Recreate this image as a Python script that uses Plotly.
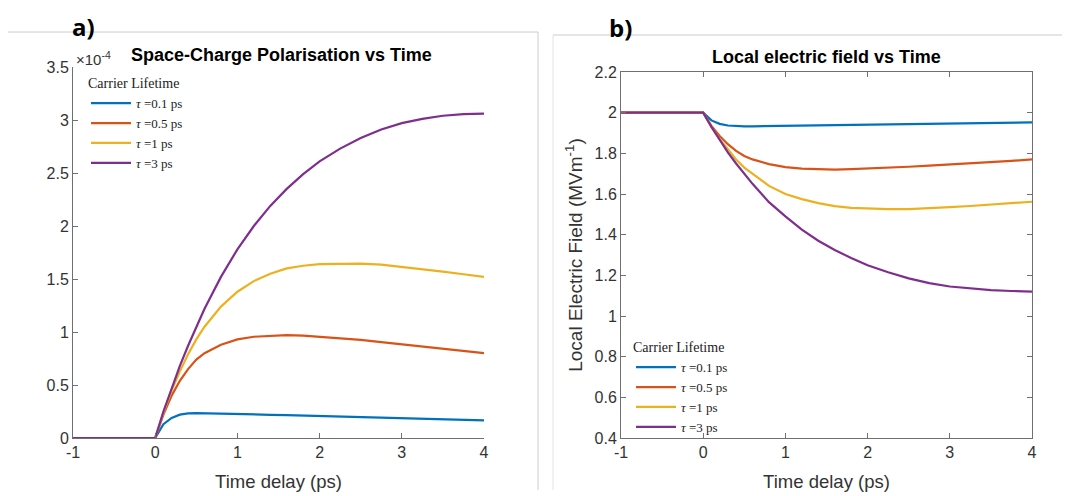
import plotly.graph_objects as go

# time axis (ps)
t = [-1, 0, 0.1, 0.2, 0.3, 0.4, 0.5, 0.6, 0.8, 1.0, 1.2, 1.4, 1.6, 1.8, 2.0,
     2.25, 2.5, 2.75, 3.0, 3.25, 3.5, 3.75, 4.0]

labels = ["<i>τ</i> =0.1 ps", "<i>τ</i> =0.5 ps", "<i>τ</i> =1 ps", "<i>τ</i> =3 ps"]
colors = ["#0072BD", "#D95319", "#EDB120", "#7E2F8E"]

x_ticks = [-1, 0, 1, 2, 3, 4]
x_ticktext = ["-1", "0", "1", "2", "3", "4"]

# Space-charge polarisation (units of 1e-4)
pol_01 = [0, 0, 0.13, 0.19, 0.22, 0.232, 0.235, 0.234, 0.231, 0.227, 0.223, 0.219,
          0.215, 0.211, 0.207, 0.202, 0.197, 0.192, 0.187, 0.182, 0.177, 0.172, 0.167]
pol_05 = [0, 0, 0.22, 0.40, 0.54, 0.65, 0.74, 0.80, 0.88, 0.93, 0.955, 0.965,
          0.97, 0.965, 0.955, 0.94, 0.925, 0.905, 0.885, 0.865, 0.845, 0.822, 0.80]
pol_1 = [0, 0, 0.24, 0.45, 0.63, 0.79, 0.93, 1.05, 1.24, 1.38, 1.48, 1.55,
         1.60, 1.625, 1.64, 1.645, 1.645, 1.635, 1.615, 1.595, 1.57, 1.545, 1.52]
pol_3 = [0, 0, 0.25, 0.47, 0.68, 0.87, 1.05, 1.22, 1.52, 1.78, 2.00, 2.19,
         2.35, 2.49, 2.61, 2.73, 2.83, 2.91, 2.97, 3.01, 3.04, 3.055, 3.06]

# Local electric field (MV/m)
ef_01 = [2, 2, 1.962, 1.945, 1.937, 1.934, 1.933, 1.933, 1.934, 1.935, 1.936, 1.937,
         1.938, 1.939, 1.940, 1.942, 1.943, 1.945, 1.946, 1.948, 1.949, 1.951, 1.952]
ef_05 = [2, 2, 1.935, 1.885, 1.845, 1.812, 1.787, 1.77, 1.747, 1.732, 1.725, 1.722,
         1.72, 1.722, 1.725, 1.729, 1.734, 1.74, 1.745, 1.751, 1.757, 1.763, 1.77]
ef_1 = [2, 2, 1.93, 1.87, 1.82, 1.77, 1.73, 1.70, 1.64, 1.60, 1.575, 1.555,
        1.54, 1.532, 1.528, 1.526, 1.526, 1.529, 1.535, 1.541, 1.548, 1.555, 1.562]
ef_3 = [2, 2, 1.93, 1.865, 1.805, 1.75, 1.70, 1.65, 1.56, 1.49, 1.425, 1.37,
        1.325, 1.285, 1.25, 1.215, 1.185, 1.162, 1.145, 1.135, 1.127, 1.123, 1.12]

pol_series = [pol_01, pol_05, pol_1, pol_3]
ef_series = [ef_01, ef_05, ef_1, ef_3]

# page body has an 8px margin; size the figure so it fills the window
OFF = 8
W, H = 1070 - OFF, 496 - OFF
def px(x):
    return (x - OFF) / W
def py(y):
    return 1 - (y - OFF) / H

fig = go.Figure()
for name, col, ys in zip(labels, colors, pol_series):
    fig.add_trace(go.Scatter(x=t, y=ys, mode="lines", name=name, line=dict(color=col, width=2.2),
                             xaxis="x", yaxis="y", legend="legend"))
for name, col, ys in zip(labels, colors, ef_series):
    fig.add_trace(go.Scatter(x=t, y=ys, mode="lines", name=name, line=dict(color=col, width=2.2),
                             xaxis="x2", yaxis="y2", legend="legend2"))

axis_col = "#707070"
tickfont = dict(family="Liberation Sans, Arial", size=16, color="#333333")
common = dict(showgrid=False, zeroline=False, showline=True, linecolor=axis_col, linewidth=1,
              ticks="inside", ticklen=5, tickcolor=axis_col, tickfont=tickfont, automargin=False)
xtitle = dict(text="Time delay (ps)", font=dict(family="Liberation Sans, Arial", size=18.5, color="#333333"), standoff=14)

legfont = dict(family="Liberation Serif, Times New Roman, serif", size=13, color="#222222")
legtitle = dict(text="Carrier Lifetime", font=dict(family="Liberation Serif, Times New Roman, serif", size=14, color="#222222"))
fig.update_layout(
    width=W, height=H, margin=dict(l=0, r=0, t=0, b=0, autoexpand=False),
    plot_bgcolor="white", paper_bgcolor="white", showlegend=True,
    xaxis=dict(domain=[px(73), px(484)], range=[-1, 4], tickvals=x_ticks, ticktext=x_ticktext,
               anchor="y", title=xtitle, **common),
    yaxis=dict(domain=[py(438), py(67)], range=[0, 3.5], dtick=0.5, anchor="x", **common),
    xaxis2=dict(domain=[px(621), px(1032)], range=[-1, 4], tickvals=x_ticks, ticktext=x_ticktext,
                anchor="y2", mirror="ticks", title=xtitle, **common),
    yaxis2=dict(domain=[py(438), py(72)], range=[0.4, 2.2], dtick=0.2, anchor="x2", mirror="ticks",
                title=dict(text="Local Electric Field (MVm<sup>-1</sup>)",
                           font=dict(family="Liberation Sans, Arial", size=19, color="#333333"), standoff=6),
                **common),
    legend=dict(x=px(86), y=py(70), xanchor="left", yanchor="top", bgcolor="rgba(0,0,0,0)",
                font=legfont, itemwidth=40, tracegroupgap=0, title=legtitle),
    legend2=dict(x=px(631), y=py(334), xanchor="left", yanchor="top", bgcolor="rgba(0,0,0,0)",
                 font=legfont, itemwidth=40, tracegroupgap=0, title=legtitle),
)

# panel borders
border = dict(type="line", xref="paper", yref="paper")
fig.add_shape(**border, x0=px(5), y0=py(32), x1=px(538), y1=py(32), line=dict(color="#cccccc", width=1))
fig.add_shape(**border, x0=px(538), y0=py(32), x1=px(538), y1=py(490), line=dict(color="#cccccc", width=1))
fig.add_shape(**border, x0=px(553), y0=py(35), x1=px(1070), y1=py(35), line=dict(color="#cccccc", width=1))
fig.add_shape(**border, x0=px(553), y0=py(35), x1=px(553), y1=py(490), line=dict(color="#e4e4e4", width=1))

def note(text, x, y, size, color="black", family="Liberation Sans, Arial", xanchor="center", yanchor="middle"):
    return dict(text=text, x=px(x), y=py(y), xref="paper", yref="paper", showarrow=False,
                xanchor=xanchor, yanchor=yanchor, font=dict(family=family, size=size, color=color))

ann = [
    note("<b>a)</b>", 83, 8.5, 24, family="Open Sans, Lato", yanchor="top"),
    note("<b>b)</b>", 620, 9.5, 24, family="Open Sans, Lato", yanchor="top"),
    note("<b>Space-Charge Polarisation vs Time</b>", 282, 55, 18),
    note("<b>Local electric field vs Time</b>", 826, 57, 18),
    note("×10<sup>-4</sup>", 74, 58, 15, color="#333333", xanchor="left"),
]
fig.update_layout(annotations=ann)

fig.write_html("out.html")
